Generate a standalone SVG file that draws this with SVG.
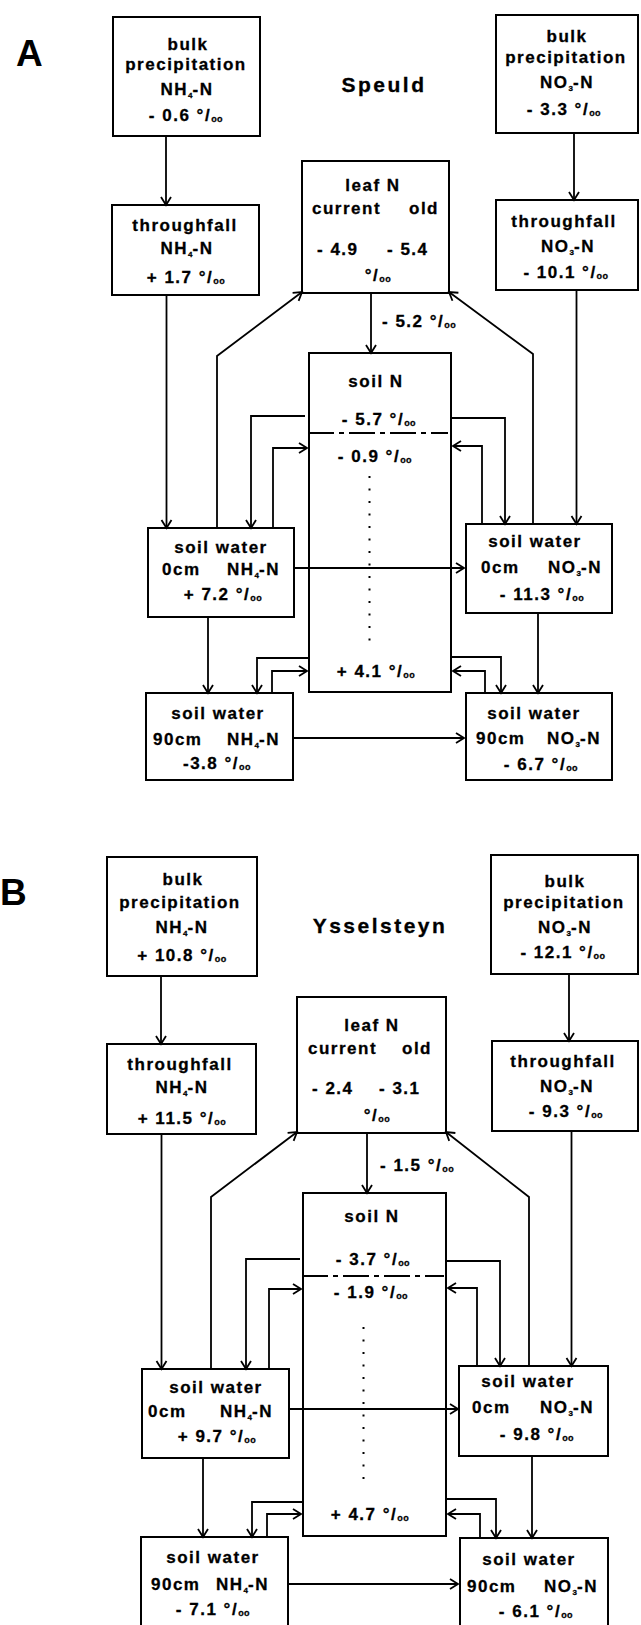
<svg xmlns="http://www.w3.org/2000/svg" width="641" height="1625" viewBox="0 0 641 1625">
<style>
.box{fill:#fff;stroke:#000;stroke-width:2}
.t{font-family:"Liberation Sans",Arial,sans-serif;font-weight:bold;font-size:17px;letter-spacing:1.5px;fill:#000;stroke:#000;stroke-width:0.3}
.m{text-anchor:middle}
.e{text-anchor:end}
.title{font-family:"Liberation Sans",Arial,sans-serif;font-weight:bold;font-size:21px;letter-spacing:2.5px;fill:#000;stroke:#000;stroke-width:0.3;text-anchor:middle}
.lab{font-family:"Liberation Sans",Arial,sans-serif;font-weight:bold;font-size:37px;fill:#000}
.pm{font-size:9px;letter-spacing:0.5px}
.sub{font-size:8px;letter-spacing:0}
.c{stroke:#000;stroke-width:1.8;fill:none}
.a{marker-end:url(#ah)}
.dd{stroke:#000;stroke-width:1.8;fill:none;stroke-dasharray:26 5 5 5}
.dots{stroke:#000;stroke-width:2;fill:none;stroke-dasharray:2 10.5}
</style>
<defs>
<marker id="ah" markerUnits="userSpaceOnUse" markerWidth="14" markerHeight="14" refX="10" refY="6" orient="auto">
<path d="M2,1 L10,6 L2,11" fill="none" stroke="#000" stroke-width="1.8"/>
</marker>
</defs>
<rect width="641" height="1625" fill="#fff"/>

<!-- ===== Panel A ===== -->
<text class="lab" x="16" y="66">A</text>
<text class="title" x="384" y="92">Speuld</text>

<g id="A_bulkNH4">
<rect class="box" x="113" y="17" width="147" height="119"/>
<text class="t m" x="188" y="50">bulk</text>
<text class="t m" x="186" y="70">precipitation</text>
<text class="t m" x="187" y="95">NH<tspan class="sub" dy="3">4</tspan><tspan dy="-3">-N</tspan></text>
<text class="t m" x="186" y="121">- 0.6 °/<tspan class="pm" dy="1">oo</tspan></text>
</g>

<g id="A_tfNH4">
<rect class="box" x="112" y="205" width="147" height="90"/>
<text class="t m" x="185" y="231">throughfall</text>
<text class="t m" x="187" y="254">NH<tspan class="sub" dy="3">4</tspan><tspan dy="-3">-N</tspan></text>
<text class="t m" x="186" y="283">+ 1.7 °/<tspan class="pm" dy="1">oo</tspan></text>
</g>

<g id="A_leaf">
<rect class="box" x="302" y="161" width="147" height="132"/>
<text class="t m" x="373" y="191">leaf N</text>
<text class="t" x="312" y="214">current</text>
<text class="t e" x="439" y="214">old</text>
<text class="t" x="317" y="255">- 4.9</text>
<text class="t" x="387" y="255">- 5.4</text>
<text class="t m" x="378" y="281">°/<tspan class="pm" dy="1">oo</tspan></text>
</g>

<g id="A_bulkNO3">
<rect class="box" x="496" y="15" width="142" height="118"/>
<text class="t m" x="567" y="42">bulk</text>
<text class="t m" x="566" y="63">precipitation</text>
<text class="t m" x="567" y="88">NO<tspan class="sub" dy="3">3</tspan><tspan dy="-3">-N</tspan></text>
<text class="t m" x="564" y="115">- 3.3 °/<tspan class="pm" dy="1">oo</tspan></text>
</g>

<g id="A_tfNO3">
<rect class="box" x="496" y="200" width="142" height="90"/>
<text class="t m" x="564" y="227">throughfall</text>
<text class="t m" x="568" y="252">NO<tspan class="sub" dy="3">3</tspan><tspan dy="-3">-N</tspan></text>
<text class="t m" x="566" y="278">- 10.1 °/<tspan class="pm" dy="1">oo</tspan></text>
</g>

<g id="A_soilN">
<rect class="box" x="309" y="353" width="142" height="339"/>
<text class="t m" x="376" y="387">soil N</text>
<text class="t m" x="379" y="425">- 5.7 °/<tspan class="pm" dy="1">oo</tspan></text>
<line class="dd" x1="308" y1="433" x2="448" y2="433"/>
<text class="t m" x="375" y="462">- 0.9 °/<tspan class="pm" dy="1">oo</tspan></text>
<line class="dots" x1="369.5" y1="476" x2="369.5" y2="645"/>
<text class="t m" x="376" y="677">+ 4.1 °/<tspan class="pm" dy="1">oo</tspan></text>
</g>

<g id="A_sw0NH4">
<rect class="box" x="148" y="528" width="146" height="89"/>
<text class="t m" x="221" y="553">soil water</text>
<text class="t" x="162" y="575">0cm</text>
<text class="t e" x="280" y="575">NH<tspan class="sub" dy="3">4</tspan><tspan dy="-3">-N</tspan></text>
<text class="t m" x="223" y="600">+ 7.2 °/<tspan class="pm" dy="1">oo</tspan></text>
</g>

<g id="A_sw0NO3">
<rect class="box" x="466" y="524" width="146" height="89"/>
<text class="t m" x="535" y="547">soil water</text>
<text class="t" x="481" y="573">0cm</text>
<text class="t e" x="602" y="573">NO<tspan class="sub" dy="3">3</tspan><tspan dy="-3">-N</tspan></text>
<text class="t m" x="542" y="600">- 11.3 °/<tspan class="pm" dy="1">oo</tspan></text>
</g>

<g id="A_sw90NH4">
<rect class="box" x="146" y="693" width="147" height="87"/>
<text class="t m" x="218" y="719">soil water</text>
<text class="t" x="153" y="745">90cm</text>
<text class="t e" x="280" y="745">NH<tspan class="sub" dy="3">4</tspan><tspan dy="-3">-N</tspan></text>
<text class="t m" x="217" y="769">-3.8 °/<tspan class="pm" dy="1">oo</tspan></text>
</g>

<g id="A_sw90NO3">
<rect class="box" x="466" y="693" width="146" height="87"/>
<text class="t m" x="534" y="719">soil water</text>
<text class="t" x="476" y="744">90cm</text>
<text class="t e" x="601" y="744">NO<tspan class="sub" dy="3">3</tspan><tspan dy="-3">-N</tspan></text>
<text class="t m" x="541" y="770">- 6.7 °/<tspan class="pm" dy="1">oo</tspan></text>
</g>

<g id="A_connectors">
<path class="c a" d="M166,136 V205"/>
<path class="c a" d="M166.5,295 V528"/>
<path class="c a" d="M217,528 V356 L302,292"/>
<path class="c a" d="M371,293 V353"/>
<path class="c a" d="M533,524 V354 L449,292"/>
<path class="c a" d="M574,133 V200"/>
<path class="c a" d="M576.5,290 V524"/>
<path class="c a" d="M305,416 H251 V528"/>
<path class="c a" d="M273,528 V448 H307"/>
<path class="c a" d="M452,418 H505 V524"/>
<path class="c a" d="M482,524 V446 H453"/>
<path class="c a" d="M294,568 H464"/>
<path class="c a" d="M208,617 V693"/>
<path class="c a" d="M309,658 H257 V693"/>
<path class="c a" d="M272,693 V671 H307"/>
<path class="c a" d="M538,613 V693"/>
<path class="c a" d="M451,657 H501 V693"/>
<path class="c a" d="M485,693 V671 H453"/>
<path class="c a" d="M293,738 H464"/>
<text class="t" x="382" y="327">- 5.2 °/<tspan class="pm" dy="1">oo</tspan></text>
</g>

<!-- ===== Panel B ===== -->
<text class="lab" x="0" y="905">B</text>
<text class="title" x="380" y="933">Ysselsteyn</text>

<g id="B_bulkNH4">
<rect class="box" x="107" y="857" width="150" height="119"/>
<text class="t m" x="183" y="885">bulk</text>
<text class="t m" x="180" y="908">precipitation</text>
<text class="t m" x="182" y="933">NH<tspan class="sub" dy="3">4</tspan><tspan dy="-3">-N</tspan></text>
<text class="t m" x="182" y="961">+ 10.8 °/<tspan class="pm" dy="1">oo</tspan></text>
</g>

<g id="B_tfNH4">
<rect class="box" x="107" y="1044" width="149" height="90"/>
<text class="t m" x="180" y="1070">throughfall</text>
<text class="t m" x="182" y="1093">NH<tspan class="sub" dy="3">4</tspan><tspan dy="-3">-N</tspan></text>
<text class="t m" x="182" y="1124">+ 11.5 °/<tspan class="pm" dy="1">oo</tspan></text>
</g>

<g id="B_leaf">
<rect class="box" x="297" y="997" width="149" height="136"/>
<text class="t m" x="372" y="1031">leaf N</text>
<text class="t" x="308" y="1054">current</text>
<text class="t e" x="432" y="1054">old</text>
<text class="t" x="312" y="1094">- 2.4</text>
<text class="t" x="379" y="1094">- 3.1</text>
<text class="t m" x="377" y="1121">°/<tspan class="pm" dy="1">oo</tspan></text>
</g>

<g id="B_bulkNO3">
<rect class="box" x="491" y="855" width="147" height="119"/>
<text class="t m" x="565" y="887">bulk</text>
<text class="t m" x="564" y="908">precipitation</text>
<text class="t m" x="565" y="933">NO<tspan class="sub" dy="3">3</tspan><tspan dy="-3">-N</tspan></text>
<text class="t m" x="563" y="958">- 12.1 °/<tspan class="pm" dy="1">oo</tspan></text>
</g>

<g id="B_tfNO3">
<rect class="box" x="492" y="1041" width="146" height="90"/>
<text class="t m" x="563" y="1067">throughfall</text>
<text class="t m" x="567" y="1092">NO<tspan class="sub" dy="3">3</tspan><tspan dy="-3">-N</tspan></text>
<text class="t m" x="566" y="1117">- 9.3 °/<tspan class="pm" dy="1">oo</tspan></text>
</g>

<g id="B_soilN">
<rect class="box" x="303" y="1193" width="143" height="343"/>
<text class="t m" x="372" y="1222">soil N</text>
<text class="t m" x="373" y="1265">- 3.7 °/<tspan class="pm" dy="1">oo</tspan></text>
<line class="dd" x1="302" y1="1276" x2="444" y2="1276"/>
<text class="t m" x="371" y="1298">- 1.9 °/<tspan class="pm" dy="1">oo</tspan></text>
<line class="dots" x1="363.5" y1="1327" x2="363.5" y2="1486"/>
<text class="t m" x="370" y="1520">+ 4.7 °/<tspan class="pm" dy="1">oo</tspan></text>
</g>

<g id="B_sw0NH4">
<rect class="box" x="142" y="1369" width="147" height="89"/>
<text class="t m" x="216" y="1393">soil water</text>
<text class="t" x="148" y="1417">0cm</text>
<text class="t e" x="273" y="1417">NH<tspan class="sub" dy="3">4</tspan><tspan dy="-3">-N</tspan></text>
<text class="t m" x="217" y="1442">+ 9.7 °/<tspan class="pm" dy="1">oo</tspan></text>
</g>

<g id="B_sw0NO3">
<rect class="box" x="459" y="1366" width="149" height="90"/>
<text class="t m" x="528" y="1387">soil water</text>
<text class="t" x="472" y="1413">0cm</text>
<text class="t e" x="594" y="1413">NO<tspan class="sub" dy="3">3</tspan><tspan dy="-3">-N</tspan></text>
<text class="t m" x="537" y="1440">- 9.8 °/<tspan class="pm" dy="1">oo</tspan></text>
</g>

<g id="B_sw90NH4">
<rect class="box" x="141" y="1537" width="147" height="100"/>
<text class="t m" x="213" y="1563">soil water</text>
<text class="t" x="151" y="1590">90cm</text>
<text class="t e" x="269" y="1590">NH<tspan class="sub" dy="3">4</tspan><tspan dy="-3">-N</tspan></text>
<text class="t m" x="213" y="1615">- 7.1 °/<tspan class="pm" dy="1">oo</tspan></text>
</g>

<g id="B_sw90NO3">
<rect class="box" x="460" y="1538" width="148" height="100"/>
<text class="t m" x="529" y="1565">soil water</text>
<text class="t" x="467" y="1592">90cm</text>
<text class="t e" x="598" y="1592">NO<tspan class="sub" dy="3">3</tspan><tspan dy="-3">-N</tspan></text>
<text class="t m" x="536" y="1617">- 6.1 °/<tspan class="pm" dy="1">oo</tspan></text>
</g>

<g id="B_connectors">
<path class="c a" d="M161,976 V1044"/>
<path class="c a" d="M161.5,1134 V1369"/>
<path class="c a" d="M211,1369 V1197 L297,1132"/>
<path class="c a" d="M367,1133 V1193"/>
<path class="c a" d="M529,1366 V1197 L446,1132"/>
<path class="c a" d="M569,974 V1041"/>
<path class="c a" d="M571.5,1131 V1366"/>
<path class="c a" d="M300,1259 H246 V1369"/>
<path class="c a" d="M269,1369 V1289 H301"/>
<path class="c a" d="M446,1261 H500 V1366"/>
<path class="c a" d="M477,1366 V1288 H448"/>
<path class="c a" d="M289,1409 H458"/>
<path class="c a" d="M203,1458 V1537"/>
<path class="c a" d="M303,1502 H252 V1537"/>
<path class="c a" d="M267,1537 V1514 H301"/>
<path class="c a" d="M532,1456 V1538"/>
<path class="c a" d="M446,1499 H496 V1538"/>
<path class="c a" d="M480,1538 V1514 H448"/>
<path class="c a" d="M288,1584 H458"/>
<text class="t" x="380" y="1171">- 1.5 °/<tspan class="pm" dy="1">oo</tspan></text>
</g>
</svg>
